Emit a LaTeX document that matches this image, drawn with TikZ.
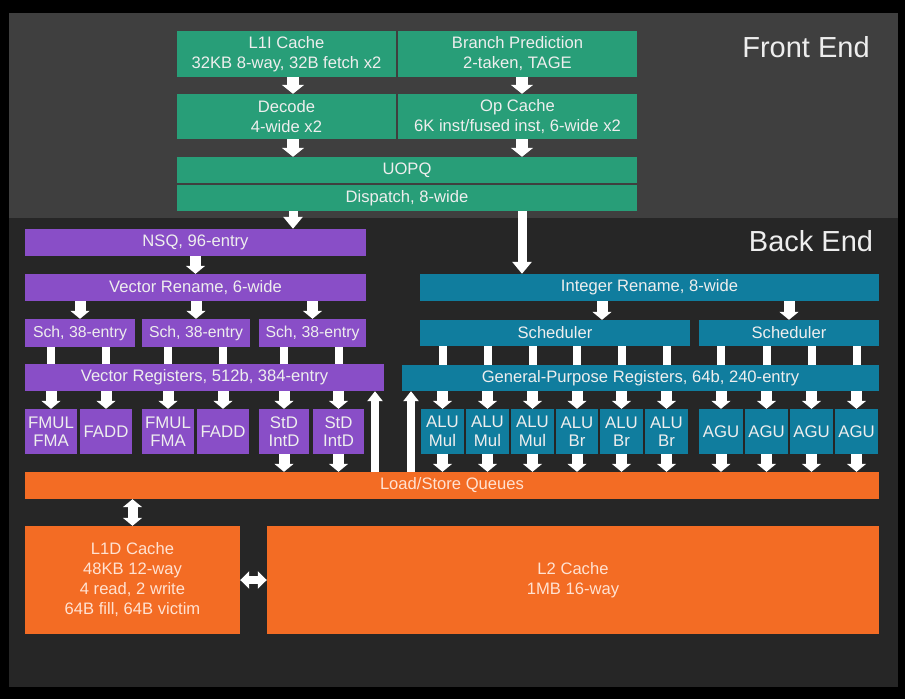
\documentclass[tikz,border=0pt]{standalone}
\usepackage{fontspec}
\setmainfont{Liberation Sans}
\usetikzlibrary{arrows.meta}
\definecolor{fe}{RGB}{63,63,63}
\definecolor{be}{RGB}{38,38,38}
\definecolor{grn}{RGB}{40,158,120}
\definecolor{pur}{RGB}{137,78,199}
\definecolor{tea}{RGB}{16,125,158}
\definecolor{org}{RGB}{243,108,36}
\definecolor{txt}{RGB}{238,238,238}
\definecolor{otxt}{RGB}{255,226,210}
\newcommand\mybox[7]{\node[#1, minimum width={(#5-#3)*1pt}, minimum height={(#6-#4)*1pt}] (#2) at ({(#3+#5)/2},{(#4+#6)/2}) {#7};}
\begin{document}
\begin{tikzpicture}[x=1pt,y=-1pt,
 box/.style={rectangle, inner sep=0pt, align=center, text=txt, font=\fontsize{16.6}{20}\selectfont},
 gbox/.style={box, fill=grn}, pbox/.style={box, fill=pur}, tbox/.style={box, fill=tea},
 obox/.style={box, fill=org, text=otxt},
 unit/.style={font=\fontsize{16.8}{18.5}\selectfont},
 bigarr/.style={draw=white, line width=12pt, -{Triangle[width=22pt,length=9pt]}},
 longarr/.style={draw=white, line width=9pt, -{Triangle[width=19pt,length=12pt]}},
 midarr/.style={draw=white, line width=11pt, -{Triangle[width=19pt,length=8pt]}},
 bar/.style={draw=white, line width=8pt},
 uparr/.style={draw=white, line width=8pt, -{Triangle[width=15pt,length=10pt]}},
 dblv/.style={draw=white, line width=10pt, {Triangle[width=19pt,length=8pt]}-{Triangle[width=19pt,length=8pt]}},
 dblh/.style={draw=white, line width=8pt, {Triangle[width=17pt,length=9pt]}-{Triangle[width=17pt,length=9pt]}},
 title/.style={text=txt, font=\fontsize{29}{34}\selectfont},
]
\useasboundingbox (0,0) rectangle (905,699);
\fill[black] (0,0) rectangle (905,699);
\fill[fe] (9,13) rectangle (898,218);
\fill[be] (9,218) rectangle (898,687);

\node[title] (fetitle) at (806,47) {Front End};
\node[title] (betitle) at (811,241) {Back End};

% front end
\mybox{gbox}{l1i}{177}{31}{396}{77}{L1I Cache\\32KB 8-way, 32B fetch x2}
\mybox{gbox}{bp}{398}{31}{637}{77}{Branch Prediction\\2-taken, TAGE}
\mybox{gbox}{dec}{177}{94}{396}{139}{Decode\\4-wide x2}
\mybox{gbox}{opc}{398}{94}{637}{139}{Op Cache\\6K inst/fused inst, 6-wide x2}
\mybox{gbox}{uopq}{177}{157}{637}{183}{UOPQ}
\mybox{gbox}{disp}{177}{185}{637}{211}{Dispatch, 8-wide}

% vector side
\mybox{pbox}{nsq}{25}{229}{366}{256}{NSQ, 96-entry}
\mybox{pbox}{vren}{25}{274}{366}{301}{Vector Rename, 6-wide}
\mybox{pbox,font=\fontsize{15.8}{18}\selectfont}{sch1}{25}{319}{135}{347}{Sch, 38-entry}
\mybox{pbox,font=\fontsize{15.8}{18}\selectfont}{sch2}{142}{319}{250}{347}{Sch, 38-entry}
\mybox{pbox,font=\fontsize{15.8}{18}\selectfont}{sch3}{259}{319}{366}{347}{Sch, 38-entry}
\mybox{pbox}{vreg}{25}{364}{384}{391}{Vector Registers, 512b, 384-entry}
\mybox{pbox,unit}{fmul1}{25}{409}{77}{454}{FMUL\\FMA}
\mybox{pbox,unit}{fadd1}{80}{409}{132}{454}{FADD}
\mybox{pbox,unit}{fmul2}{142}{409}{194}{454}{FMUL\\FMA}
\mybox{pbox,unit}{fadd2}{197}{409}{249}{454}{FADD}
\mybox{pbox,unit}{std1}{259}{409}{309}{454}{StD\\IntD}
\mybox{pbox,unit}{std2}{313}{409}{364}{454}{StD\\IntD}

% integer side
\mybox{tbox}{iren}{420}{274}{879}{301}{Integer Rename, 8-wide}
\mybox{tbox}{isch1}{420}{320}{690}{346}{Scheduler}
\mybox{tbox}{isch2}{699}{320}{879}{346}{Scheduler}
\mybox{tbox}{gpr}{402}{365}{879}{391}{General-Purpose Registers, 64b, 240-entry}
\mybox{tbox,unit}{alu1}{421}{409}{464}{454}{ALU\\Mul}
\mybox{tbox,unit}{alu2}{466}{409}{509}{454}{ALU\\Mul}
\mybox{tbox,unit}{alu3}{511}{409}{554}{454}{ALU\\Mul}
\mybox{tbox,unit}{alu4}{556}{409}{598}{454}{ALU\\Br}
\mybox{tbox,unit}{alu5}{600}{409}{643}{454}{ALU\\Br}
\mybox{tbox,unit}{alu6}{645}{409}{688}{454}{ALU\\Br}
\mybox{tbox,unit}{agu1}{699}{409}{743}{454}{AGU}
\mybox{tbox,unit}{agu2}{745}{409}{788}{454}{AGU}
\mybox{tbox,unit}{agu3}{790}{409}{833}{454}{AGU}
\mybox{tbox,unit}{agu4}{835}{409}{878}{454}{AGU}

% memory
\mybox{obox}{lsq}{25}{472}{879}{499}{Load/Store Queues}
\mybox{obox}{l1d}{25}{526}{240}{634}{L1D Cache\\48KB 12-way\\4 read, 2 write\\64B fill, 64B victim}
\mybox{obox}{l2}{267}{526}{879}{634}{L2 Cache\\1MB 16-way}

% column coordinates
\coordinate (cL) at (293,0);
\coordinate (cR) at (522,0);
\coordinate (cI) at (602,0);
\coordinate (cUpV) at (375,0);
\coordinate (cUpI) at (411,0);

% front-end arrows
\draw[bigarr] (l1i.south -| cL) -- (dec.north -| cL);
\draw[bigarr] (bp.south -| cR) -- (opc.north -| cR);
\draw[bigarr] (dec.south -| cL) -- (uopq.north -| cL);
\draw[bigarr] (opc.south -| cR) -- (uopq.north -| cR);
\draw[longarr] (disp.south -| cL) -- (nsq.north -| cL);
\draw[longarr] (disp.south -| cR) -- (iren.north -| cR);

% vector arrows
\draw[midarr] (nsq.south) -- (vren.north);
\draw[midarr] (vren.south -| sch1) -- (sch1.north);
\draw[midarr] (vren.south -| sch2) -- (sch2.north);
\draw[midarr] (vren.south -| sch3) -- (sch3.north);
\draw[bar] (sch1.south -| fmul1) -- (vreg.north -| fmul1);
\draw[bar] (sch1.south -| fadd1) -- (vreg.north -| fadd1);
\draw[bar] (sch2.south -| fmul2) -- (vreg.north -| fmul2);
\draw[bar] (sch2.south -| fadd2) -- (vreg.north -| fadd2);
\draw[bar] (sch3.south -| std1) -- (vreg.north -| std1);
\draw[bar] (sch3.south -| std2) -- (vreg.north -| std2);
\foreach \u in {fmul1,fadd1,fmul2,fadd2,std1,std2}
  \draw[midarr] (vreg.south -| \u) -- (\u.north);
\draw[midarr] (std1.south) -- (lsq.north -| std1);
\draw[midarr] (std2.south) -- (lsq.north -| std2);
\draw[uparr] (lsq.north -| cUpV) -- (vreg.south -| cUpV);

% integer arrows
\draw[midarr] (iren.south -| cI) -- (isch1.north -| cI);
\draw[midarr] (iren.south -| isch2) -- (isch2.north);
\foreach \u in {alu1,alu2,alu3,alu4,alu5,alu6}
  \draw[bar] (isch1.south -| \u) -- (gpr.north -| \u);
\foreach \u in {agu1,agu2,agu3,agu4}
  \draw[bar] (isch2.south -| \u) -- (gpr.north -| \u);
\foreach \u in {alu1,alu2,alu3,alu4,alu5,alu6,agu1,agu2,agu3,agu4}{
  \draw[midarr] (gpr.south -| \u) -- (\u.north);
  \draw[midarr] (\u.south) -- (lsq.north -| \u);
}
\draw[uparr] (lsq.north -| cUpI) -- (gpr.south -| cUpI);

% memory arrows
\draw[dblv] (lsq.south -| l1d) -- (l1d.north);
\draw[dblh] (l1d.east) -- (l2.west);
\end{tikzpicture}
\end{document}
